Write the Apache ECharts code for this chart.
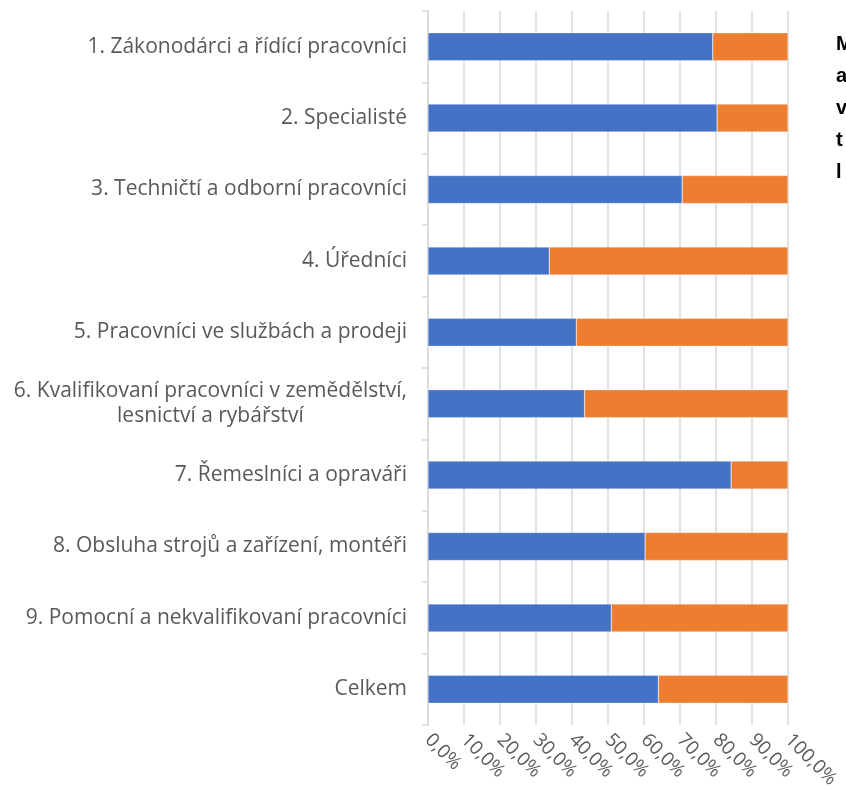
<!DOCTYPE html>
<html><head><meta charset="utf-8">
<script src="https://cdn.jsdelivr.net/npm/echarts@6/dist/echarts.min.js"></script>
<style>html,body{margin:0;padding:0;background:#fff}#c{width:846px;height:801px}</style>
</head><body><div id="c"></div>
<script>
const categories = [
  "1. Zákonodárci a řídící pracovníci",
  "2. Specialisté",
  "3. Techničtí a odborní pracovníci",
  "4. Úředníci",
  "5. Pracovníci ve službách a prodeji",
  "6. Kvalifikovaní pracovníci v zemědělství,\nlesnictví a rybářství",
  "7. Řemeslníci a opraváři",
  "8. Obsluha strojů a zařízení, montéři",
  "9. Pomocní a nekvalifikovaní pracovníci",
  "Celkem"
];
const seriesBlue = [79.1, 80.3, 70.6, 33.7, 41.2, 43.5, 84.2, 60.3, 50.9, 64.0];
const seriesOrange = [20.9, 19.7, 29.4, 66.3, 58.8, 56.5, 15.8, 39.7, 49.1, 36.0];
const sideText = ["M", "a", "v", "t", "l"];

const FONT = "Open Sans";
const chart = echarts.init(document.getElementById('c'), null, {renderer: 'canvas'});
chart.setOption({
  animation: false,
  backgroundColor: '#fff',
  grid: {left: 428, right: 58, top: 11, bottom: 76, containLabel: false},
  xAxis: {
    type: 'value', min: 0, max: 100, interval: 10,
    axisLine: {show: false}, axisTick: {show: false},
    splitLine: {show: true, lineStyle: {color: '#d9d9d9', width: 1.5}},
    axisLabel: {
      rotate: -45, margin: 12, color: '#595959', fontSize: 19, fontFamily: FONT,
      formatter: v => v.toFixed(1).replace('.', ',') + '%'
    }
  },
  yAxis: {
    type: 'category', data: categories, inverse: true,
    axisLine: {show: true, lineStyle: {color: '#d9d9d9', width: 1.5}},
    axisTick: {show: true, length: 6, lineStyle: {color: '#d9d9d9', width: 1.5}},
    axisLabel: {
      margin: 21, color: '#595959', fontSize: 21, fontFamily: FONT,
      formatter: v => v.indexOf('\n') >= 0 ? v.split('\n').map(s => '{c|' + s + '}').join('\n') : v,
      rich: {c: {align: 'center', color: '#595959', fontSize: 21, fontFamily: FONT, lineHeight: 25}}
    }
  },
  series: [
    {name: 'Muži', type: 'bar', stack: 'a', data: seriesBlue, barWidth: 28,
     itemStyle: {color: '#4472C4', borderColor: 'rgba(255,255,255,0.6)', borderWidth: 0.5}},
    {name: 'Ženy', type: 'bar', stack: 'a', data: seriesOrange, barWidth: 28,
     itemStyle: {color: '#ED7D31', borderColor: 'rgba(255,255,255,0.6)', borderWidth: 0.5}}
  ],
  graphic: [{
    type: 'text', left: 836, top: 28,
    style: {text: sideText.join('\n'), fontSize: 20, fontWeight: 'bold', fontFamily: 'Liberation Sans', fill: '#000', lineHeight: 32}
  }]
});
</script></body></html>
